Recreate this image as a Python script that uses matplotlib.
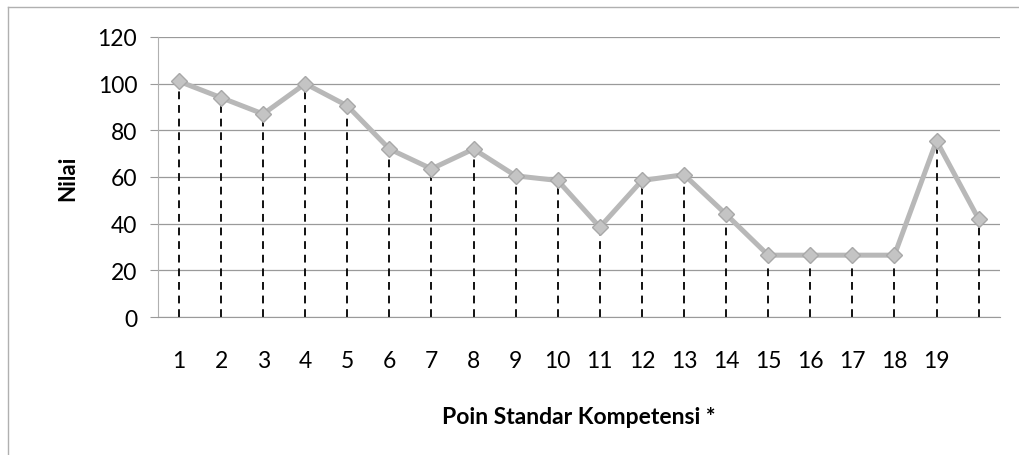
import numpy as np
import matplotlib.pyplot as plt
from matplotlib.lines import Line2D

# points along the competence standard axis
poin = np.arange(1, 21)
nilai = [101, 94, 87, 100, 90.5, 72, 63.5, 72, 60.5, 58.5,
         38.5, 58.5, 61, 44, 26.5, 26.5, 26.5, 26.5, 75.5, 42]
tick_labels = [str(i) for i in range(1, 20)]

plt.rcParams['font.family'] = ['Lato', 'DejaVu Sans']

fig = plt.figure(figsize=(10.19, 4.56), dpi=100)
ax = fig.add_axes([0.155, 0.3026, 0.826, 0.6141])

# dashed drop lines from each point down to zero
ax.vlines(poin, 0, nilai, colors='#111111', linestyles=(0, (4, 3)),
          linewidth=1.4, zorder=2)
ax.plot(poin, nilai, color='#b8b8b8', linewidth=3.6, marker='D',
        markersize=8.5, markerfacecolor='#c4c4c4', markeredgecolor='#a8a8a8',
        zorder=3)

ax.set_xlim(0.5, 20.5)
ax.set_ylim(0, 120)
ax.set_yticks(range(0, 121, 20))
ax.set_xticks(range(1, 20))
ax.set_xticklabels(tick_labels)

ax.grid(axis='y', color='#9a9a9a', linewidth=0.9)
ax.set_axisbelow(True)
for s in ['top', 'right']:
    ax.spines[s].set_visible(False)
ax.spines['left'].set_color('#b0b0b0')
ax.spines['bottom'].set_color('#9a9a9a')
ax.tick_params(axis='y', length=6, color='#9a9a9a', pad=9, labelsize=16.5)
ax.tick_params(axis='x', length=0, pad=24, labelsize=16.5)

ax.set_ylabel('Nilai', fontsize=16, fontweight='bold', labelpad=14)
ax.set_xlabel('Poin Standar Kompetensi *', fontsize=16.5, fontweight='bold',
              labelpad=25)

# chart frame (left and top edges)
fig.add_artist(Line2D([0.008, 0.008], [0, 0.982], color='#b0b0b0',
                      linewidth=1, transform=fig.transFigure))
fig.add_artist(Line2D([0.008, 1], [0.982, 0.982], color='#b0b0b0',
                      linewidth=1, transform=fig.transFigure))

fig.savefig('out.png', dpi=100)
